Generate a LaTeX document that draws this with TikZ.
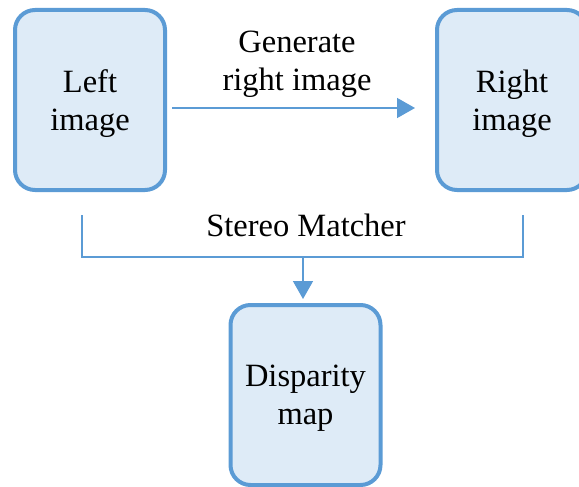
\documentclass[tikz,border=0pt]{standalone}
\usepackage{fontspec}
\setmainfont{Liberation Serif}
\usetikzlibrary{positioning, arrows.meta}
\definecolor{boxblue}{HTML}{5B9BD5}
\definecolor{boxfill}{HTML}{DEEBF7}

\begin{document}
\begin{tikzpicture}[x=1pt, y=-1pt,
    imgbox/.style={draw=boxblue, fill=boxfill, line width=4pt, rounded corners=20pt, minimum width=150pt, minimum height=180pt, align=center, text depth=0pt, font=\fontsize{32.5}{38}\selectfont},
    link/.style={draw=boxblue, line width=1.6pt},
    tip/.style={-{Triangle[length=18pt, width=20pt]}},
    caption/.style={align=center, inner sep=0pt, font=\fontsize{32.5}{38}\selectfont}]
    \useasboundingbox (0,0) rectangle (579,487);

    % Left image
    \node[imgbox] (left) at (90,100) {Left\\image};

    % Right image
    \node[imgbox] (right) at (512,100) {Right\\image};

    % Disparity map
    \node[imgbox] (disparity) at (305.5,395) {Disparity\\map};

    % Generate right image
    \draw[link, tip, shorten <=5pt, shorten >=20pt] ([yshift=-8pt]left.east) -- node[caption, above=10pt, xshift=-4pt] (genlabel) {Generate\\right image} ([yshift=-8pt]right.west);

    % Stereo matcher
    \coordinate (lefttap) at (82,215);
    \coordinate (righttap) at (523,215);
    \coordinate (join) at (303,257);
    \node[caption, above=20pt of join, xshift=3pt] (matcher) {Stereo Matcher};
    \draw[link] (lefttap) |- (join) -| (righttap);
    \draw[link, tip, shorten >=4pt] (join) -- (join |- disparity.north);
\end{tikzpicture}
\end{document}
